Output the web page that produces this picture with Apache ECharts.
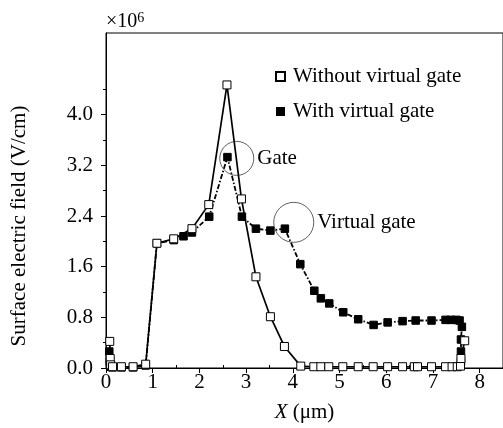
<!DOCTYPE html>
<html>
<head>
<meta charset="utf-8">
<script src="https://cdn.jsdelivr.net/npm/echarts@6/dist/echarts.min.js"></script>
<style>
  html, body { margin: 0; padding: 0; background: #fff; }
  #chart { width: 503px; height: 428px; }
</style>
</head>
<body>
<div id="chart"></div>
<script>
// field along the surface, x in um, field in 1e6 V/cm
const noVgX = [0.08, 0.09, 0.10, 0.14, 0.33, 0.58, 0.85, 1.09, 1.45, 1.84, 2.20, 2.59, 2.90, 3.21, 3.52, 3.82,
  4.17, 4.45, 4.60, 4.77, 5.07, 5.40, 5.72, 6.03, 6.35, 6.60, 6.67, 6.97, 7.27, 7.41, 7.52, 7.59, 7.60, 7.68];
const noVgY = [0.42, 0.15, 0.05, 0.02, 0.02, 0.02, 0.06, 1.97, 2.04, 2.20, 2.58, 4.47, 2.67, 1.44, 0.81, 0.34,
  0.03, 0.02, 0.02, 0.02, 0.02, 0.02, 0.02, 0.02, 0.02, 0.02, 0.02, 0.02, 0.02, 0.02, 0.02, 0.03, 0.15, 0.43];

const vgX = [0.07, 0.08, 0.10, 0.14, 0.33, 0.58, 0.85, 1.09, 1.45, 1.66, 1.84, 2.21, 2.60, 2.91, 3.21, 3.52, 3.83,
  4.16, 4.46, 4.60, 4.78, 5.08, 5.40, 5.73, 6.03, 6.35, 6.63, 6.97, 7.27, 7.38, 7.50, 7.57, 7.62, 7.60, 7.60, 7.60];
const vgY = [0.26, 0.10, 0.02, 0.01, 0.01, 0.01, 0.04, 1.97, 2.02, 2.08, 2.14, 2.39, 3.33, 2.39, 2.20, 2.17, 2.20,
  1.64, 1.22, 1.10, 1.02, 0.88, 0.77, 0.68, 0.72, 0.74, 0.75, 0.75, 0.76, 0.76, 0.76, 0.75, 0.65, 0.45, 0.26, 0.10];

const xTicks = [0, 1, 2, 3, 4, 5, 6, 7, 8];
const xMinor = [0.5, 1.5, 2.5, 3.5, 4.5, 5.5, 6.5, 7.5];
const yTicks = [0, 0.8, 1.6, 2.4, 3.2, 4.0];
const yMinor = [0.4, 1.2, 2.0, 2.8, 3.6, 4.4];

// circled annotations
const annoX = [2.80, 4.02];
const annoY = [3.31, 2.30];
const annoSize = [34, 40];
const annoText = ['Gate', 'Virtual gate'];

const serif = '"Liberation Serif", "DejaVu Serif", serif';
const fs = 21;
const zip = (xs, ys) => xs.map((x, i) => [x, ys[i]]);

const chart = echarts.init(document.getElementById('chart'));

const baseX = {
  type: 'value', min: 0, max: 8.5,
  axisLine: { show: true, lineStyle: { color: '#000', width: 1 } },
  splitLine: { show: false }
};
const baseY = {
  type: 'value', min: 0, max: 5.29,
  axisLine: { show: true, lineStyle: { color: '#000', width: 1 } },
  splitLine: { show: false }
};

chart.setOption({
  animation: false,
  backgroundColor: '#fff',
  grid: {
    left: 106, right: -6, top: 33, bottom: 60,
    show: true, borderColor: '#000', borderWidth: 1, backgroundColor: 'transparent'
  },
  legend: {
    orient: 'vertical', left: 270, top: 61, itemGap: 14,
    itemWidth: 9, itemHeight: 9, icon: 'rect',
    textStyle: { fontFamily: serif, fontSize: fs, color: '#000', padding: [0, 0, 0, 3] },
    data: ['Without virtual gate', 'With virtual gate']
  },
  xAxis: [
    Object.assign({}, baseX, {
      name: '{i|X} (μm)', nameLocation: 'middle', nameGap: 34,
      nameTextStyle: { fontFamily: serif, fontSize: fs, color: '#000',
        rich: { i: { fontFamily: serif, fontSize: fs, fontStyle: 'italic', color: '#000' } } },
      axisTick: { show: true, length: 5, customValues: xTicks, lineStyle: { color: '#000' } },
      axisLabel: { customValues: xTicks, margin: 4, fontFamily: serif, fontSize: fs, color: '#000' }
    }),
    Object.assign({}, baseX, {
      axisTick: { show: true, length: 3, customValues: xMinor, lineStyle: { color: '#000' } },
      axisLabel: { show: false }
    })
  ],
  yAxis: [
    Object.assign({}, baseY, {
      axisTick: { show: true, length: 5, customValues: yTicks, lineStyle: { color: '#000' } },
      axisLabel: { customValues: yTicks, margin: 13, fontFamily: serif, fontSize: fs, color: '#000',
        formatter: v => v.toFixed(1) }
    }),
    Object.assign({}, baseY, {
      position: 'left',
      axisTick: { show: true, length: 3, customValues: yMinor, lineStyle: { color: '#000' } },
      axisLabel: { show: false }
    })
  ],
  graphic: [
    {
      type: 'text', left: 106, top: 11,
      style: {
        text: '×10{s|6}', fontFamily: serif, fontSize: 20, fill: '#000',
        rich: { s: { fontFamily: serif, fontSize: 14, verticalAlign: 'top', padding: [0, 0, 8, 0] } }
      }
    },
    {
      type: 'text', x: 19, y: 226, rotation: Math.PI / 2,
      style: {
        text: 'Surface electric field (V/cm)', fontFamily: serif, fontSize: fs, fill: '#000',
        align: 'center', verticalAlign: 'middle'
      }
    }
  ],
  series: [
    {
      name: 'With virtual gate', type: 'line', z: 2,
      data: zip(vgX, vgY),
      symbol: 'rect', symbolSize: 7.5, showAllSymbol: true,
      itemStyle: { color: '#000', borderColor: '#000' },
      lineStyle: { color: '#000', width: 1.8, type: [5, 2, 1.5, 2] }
    },
    {
      name: 'Without virtual gate', type: 'line', z: 3,
      data: zip(noVgX, noVgY),
      symbol: 'rect', symbolSize: 8, showAllSymbol: true,
      itemStyle: { color: '#fff', borderColor: '#000', borderWidth: 1 },
      lineStyle: { color: '#000', width: 1.7 }
    },
    {
      name: 'anno', type: 'scatter', z: 4, silent: true,
      data: annoX.map((x, i) => ({ value: [x, annoY[i]], symbolSize: annoSize[i], label: { formatter: annoText[i] } })),
      symbol: 'circle',
      itemStyle: { color: 'transparent', borderColor: '#222', borderWidth: 0.9 },
      label: { show: true, position: 'right', distance: 3, fontFamily: serif, fontSize: fs, color: '#000', opacity: 1 }
    }
  ]
});
</script>
</body>
</html>
